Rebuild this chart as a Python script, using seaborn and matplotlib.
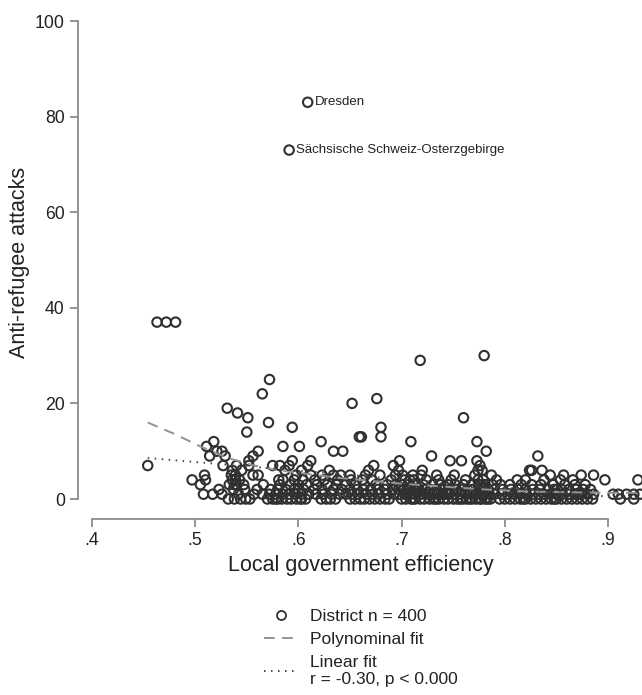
import matplotlib
matplotlib.use("Agg")
import matplotlib.pyplot as plt
from matplotlib.lines import Line2D
import seaborn as sns
import pandas as pd

# ---- data: x positions (local government efficiency) grouped by attack count ----
x_at_0 = [0.532, 0.538, 0.544, 0.549, 0.553, 0.570, 0.575, 0.580, 0.584, 0.589, 0.593, 0.598,
          0.603, 0.607, 0.622, 0.627, 0.631, 0.636, 0.650, 0.655, 0.660, 0.664, 0.669, 0.674,
          0.679, 0.684, 0.688, 0.700, 0.704, 0.709, 0.713, 0.718, 0.722, 0.727, 0.731, 0.736,
          0.741, 0.745, 0.750, 0.754, 0.759, 0.763, 0.768, 0.772, 0.777, 0.781, 0.786, 0.795,
          0.800, 0.805, 0.810, 0.815, 0.820, 0.825, 0.830, 0.835, 0.840, 0.845, 0.850, 0.855,
          0.860, 0.865, 0.870, 0.875, 0.880, 0.885, 0.912, 0.925, 0.578, 0.602, 0.711, 0.733,
          0.757, 0.766, 0.776, 0.783, 0.818, 0.848]
x_at_1 = [0.508, 0.517, 0.526, 0.542, 0.557, 0.565, 0.572, 0.578, 0.585, 0.591, 0.597, 0.603,
          0.610, 0.617, 0.624, 0.632, 0.640, 0.646, 0.652, 0.658, 0.666, 0.672, 0.678, 0.686,
          0.693, 0.698, 0.703, 0.708, 0.713, 0.719, 0.724, 0.730, 0.735, 0.740, 0.746, 0.751,
          0.757, 0.762, 0.767, 0.772, 0.776, 0.780, 0.785, 0.790, 0.797, 0.803, 0.809, 0.815,
          0.821, 0.827, 0.833, 0.838, 0.844, 0.850, 0.856, 0.862, 0.868, 0.874, 0.880, 0.886,
          0.905, 0.910, 0.918, 0.925, 0.931, 0.705, 0.727, 0.744, 0.778, 0.871]
x_at_2 = [0.523, 0.537, 0.548, 0.560, 0.573, 0.580, 0.588, 0.596, 0.605, 0.615, 0.623, 0.634,
          0.642, 0.650, 0.657, 0.663, 0.670, 0.677, 0.684, 0.691, 0.697, 0.702, 0.707, 0.712,
          0.717, 0.723, 0.728, 0.734, 0.740, 0.747, 0.753, 0.758, 0.764, 0.769, 0.774, 0.779,
          0.784, 0.790, 0.798, 0.806, 0.813, 0.820, 0.827, 0.834, 0.842, 0.848, 0.855, 0.862,
          0.869, 0.876, 0.883, 0.600, 0.715, 0.776, 0.851]
x_at_3 = [0.505, 0.533, 0.540, 0.547, 0.566, 0.582, 0.592, 0.600, 0.608, 0.618, 0.628, 0.637,
          0.646, 0.655, 0.664, 0.675, 0.686, 0.694, 0.700, 0.706, 0.714, 0.721, 0.730, 0.738,
          0.745, 0.752, 0.760, 0.768, 0.775, 0.781, 0.788, 0.796, 0.805, 0.816, 0.826, 0.835,
          0.847, 0.858, 0.868, 0.878, 0.538, 0.712, 0.777]
x_at_4 = [0.497, 0.510, 0.536, 0.543, 0.581, 0.585, 0.596, 0.604, 0.616, 0.625, 0.638, 0.651,
          0.662, 0.671, 0.690, 0.703, 0.712, 0.724, 0.736, 0.748, 0.762, 0.774, 0.779, 0.792,
          0.812, 0.820, 0.838, 0.854, 0.866, 0.897, 0.929, 0.539, 0.708]
x_at_5 = [0.509, 0.535, 0.539, 0.556, 0.561, 0.598, 0.612, 0.623, 0.634, 0.641, 0.650, 0.665,
          0.679, 0.694, 0.701, 0.711, 0.719, 0.734, 0.751, 0.771, 0.787, 0.844, 0.857, 0.874,
          0.886]
x_at_6 = [0.536, 0.545, 0.587, 0.603, 0.630, 0.668, 0.697, 0.720, 0.774, 0.778, 0.824, 0.826,
          0.836]
x_at_7 = [0.454, 0.527, 0.540, 0.552, 0.575, 0.582, 0.591, 0.609, 0.673, 0.692, 0.776]
x_at_8 = [0.552, 0.594, 0.612, 0.698, 0.747, 0.758, 0.773]
x_at_9 = [0.514, 0.529, 0.556, 0.729, 0.832]
x_at_10 = [0.521, 0.526, 0.561, 0.634, 0.643, 0.782]
x_at_11 = [0.511, 0.585, 0.601]
x_at_12 = [0.518, 0.622, 0.709, 0.773]
x_at_13 = [0.659, 0.661, 0.680]
x_at_14 = [0.550]
x_at_15 = [0.594, 0.680]
x_at_16 = [0.571]
x_at_17 = [0.551, 0.760]
x_at_18 = [0.541]
x_at_19 = [0.531]
x_at_20 = [0.652]
x_at_21 = [0.676]
x_at_22 = [0.565]
x_at_25 = [0.572]
x_at_29 = [0.718]
x_at_30 = [0.780]
x_at_37 = [0.463, 0.472, 0.481]
x_at_73 = [0.591]
x_at_83 = [0.609]

# polynomial fit curve
poly_fit_x = [0.454, 0.480, 0.505, 0.530, 0.555, 0.580, 0.610, 0.640, 0.670, 0.700, 0.740,
              0.780, 0.820, 0.860, 0.900, 0.931]
poly_fit_y = [16.0, 13.6, 11.0, 8.7, 7.1, 6.0, 5.2, 4.4, 3.8, 3.2, 2.6, 2.0, 1.6, 1.4, 1.3, 1.3]

labelled_names = ["Dresden", "Sächsische Schweiz-Osterzgebirge"]
labelled_x = [0.609, 0.591]
labelled_y = [83, 73]

legend_labels = ["District n = 400", "Polynominal fit", "Linear fit\nr = -0.30, p < 0.000"]
x_ticks = [0.4, 0.5, 0.6, 0.7, 0.8, 0.9]
x_tick_labels = [".4", ".5", ".6", ".7", ".8", ".9"]
y_ticks = [0, 20, 40, 60, 80, 100]

groups = {0: x_at_0, 1: x_at_1, 2: x_at_2, 3: x_at_3, 4: x_at_4, 5: x_at_5, 6: x_at_6,
          7: x_at_7, 8: x_at_8, 9: x_at_9, 10: x_at_10, 11: x_at_11, 12: x_at_12,
          13: x_at_13, 14: x_at_14, 15: x_at_15, 16: x_at_16, 17: x_at_17, 18: x_at_18,
          19: x_at_19, 20: x_at_20, 21: x_at_21, 22: x_at_22, 25: x_at_25, 29: x_at_29,
          30: x_at_30, 37: x_at_37, 73: x_at_73, 83: x_at_83}
rows = [(xv, yv) for yv, xs in groups.items() for xv in xs]
df = pd.DataFrame(rows, columns=["efficiency", "attacks"])
poly_df = pd.DataFrame({"efficiency": poly_fit_x, "attacks": poly_fit_y})

sns.set_theme(style="white")
plt.rcParams["font.family"] = ["Liberation Sans", "DejaVu Sans"]

W, H = 642, 695
fig = plt.figure(figsize=(W / 100, H / 100), dpi=100)
ax_l, ax_r, ax_t, ax_b = 78, 642, 15, 519
ax = fig.add_axes([ax_l / W, 1 - ax_b / H, (ax_r - ax_l) / W, (ax_b - ax_t) / H])

mk_col = "#303030"
dash_col = "#939393"
dot_col = "#4a4a4a"
dash_pat = (0, (5.5, 3.8))
dot_pat = (0, (0.8, 2.8))

sns.scatterplot(data=df, x="efficiency", y="attacks", ax=ax, marker="o", s=46,
                facecolors="none", edgecolor=mk_col, linewidth=1.5, legend=False, zorder=3)
sns.lineplot(data=poly_df, x="efficiency", y="attacks", ax=ax, color=dash_col, lw=1.4,
             ls=dash_pat, zorder=4)
sns.regplot(data=df, x="efficiency", y="attacks", ax=ax, order=1, scatter=False, ci=None,
            line_kws=dict(color=dot_col, lw=1.4, ls=dot_pat, zorder=4))

for name, xv, yv in zip(labelled_names, labelled_x, labelled_y):
    ax.annotate(name, (xv, yv), xytext=(5, 0), textcoords="offset points",
                va="center", ha="left", fontsize=9.5, color="#222222")

px_per = 1032.0  # pixels per unit x
ax.set_xlim(0.4 - (92 - ax_l) / px_per, 0.4 + (ax_r - 92) / px_per)
ypx = 4.78
ax.set_ylim(-(ax_b - 499) / ypx, 100 + (21 - ax_t) / ypx)

for s in ["top", "right"]:
    ax.spines[s].set_visible(False)
gc = "#8c8c8c"
ax.spines["left"].set_bounds(0, 100)
ax.spines["bottom"].set_bounds(0.4, 0.9)
for s in ["left", "bottom"]:
    ax.spines[s].set_color(gc)
    ax.spines[s].set_linewidth(1.3)
ax.set_xticks(x_ticks)
ax.set_xticklabels(x_tick_labels)
ax.set_yticks(y_ticks)
ax.tick_params(axis="both", direction="out", length=6, width=1.3, color=gc,
               labelsize=12.7, labelcolor="#222222", pad=3.5, left=True, bottom=True)
ax.set_xlabel("")
ax.set_ylabel("")

fig.text(361 / W, 1 - 566 / H, "Local government efficiency", ha="center", va="center",
         fontsize=15.5, color="#222222")
fig.text(20 / W, 1 - 262 / H, "Anti-refugee attacks", ha="center", va="center",
         rotation=90, fontsize=15.5, color="#222222")

handles = [
    Line2D([], [], ls="none", marker="o", markersize=6.5, markerfacecolor="none",
           markeredgecolor=mk_col, markeredgewidth=1.3),
    Line2D([], [], color=dash_col, lw=1.4, ls=dash_pat),
    Line2D([], [], color=dot_col, lw=1.4, ls=dot_pat),
]
fig.legend(handles, legend_labels, loc="upper center", bbox_to_anchor=(361 / W, 1 - 600 / H),
           frameon=False, fontsize=12.5, handlelength=1.9, handletextpad=0.75,
           labelspacing=0.45, borderpad=0, labelcolor="#222222")

fig.savefig("out.png", dpi=100, facecolor="white")
